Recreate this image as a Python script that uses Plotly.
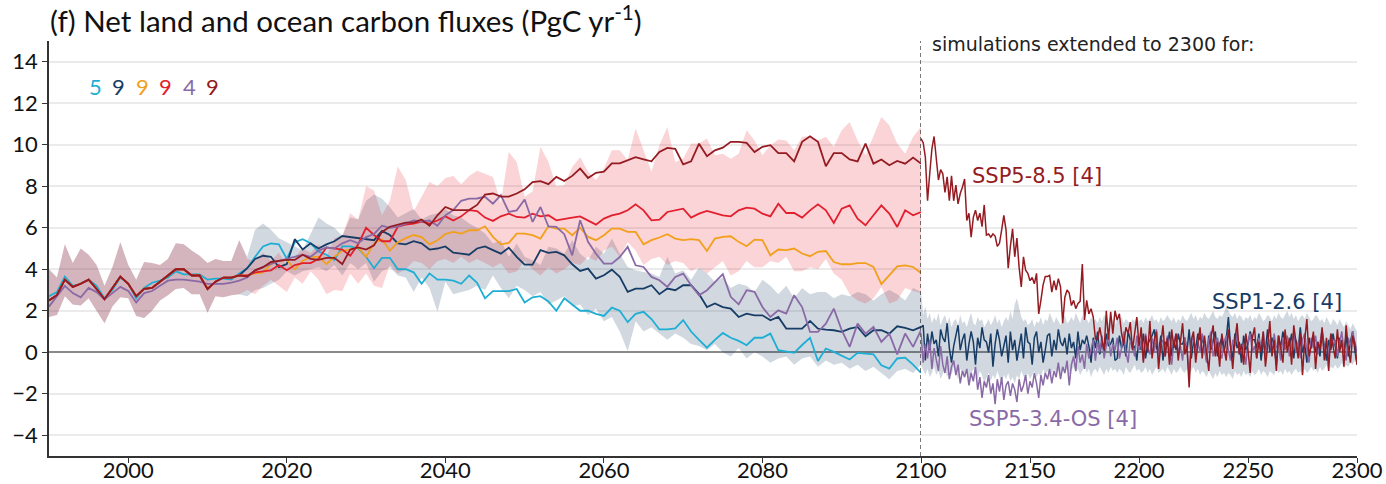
import plotly.graph_objects as go

# ---------------- data ----------------
YEARS = list(range(1990, 2101))
YEARS_EXT = list(range(2100, 2301))

# historical (1990-2014) for the 9-, 5- and 4-model subsets
HIST9 = [2.5, 2.75, 3.5, 3.15, 3.3, 3.5, 3.05, 2.55, 3.1, 3.65, 3.3, 2.7, 3.05, 3.1, 3.4,
         3.7, 4.0, 4.0, 3.7, 3.7, 3.05, 3.4, 3.6, 3.6, 3.7]
HIST5 = [2.7, 2.9, 3.65, 3.2, 3.3, 3.5, 3.2, 2.6, 3.0, 3.6, 3.3, 2.6, 3.1, 3.35, 3.45,
         3.6, 3.9, 3.75, 3.75, 3.75, 3.5, 3.55, 3.55, 3.5, 3.8]
HIST4 = [2.2, 2.7, 3.2, 2.85, 2.65, 3.1, 2.9, 2.55, 2.85, 3.15, 2.95, 2.4, 2.85, 2.95, 3.2,
         3.45, 3.5, 3.5, 3.45, 3.4, 3.3, 3.3, 3.3, 3.35, 3.45]
HIST_LOW = [1.7, 1.8, 2.7, 2.3, 2.25, 2.6, 2.0, 1.4, 2.2, 2.65, 2.6, 1.75, 1.65, 2.0, 2.5,
            2.75, 3.05, 3.1, 2.8, 2.8, 1.9, 2.7, 2.65, 2.75, 2.8]
HIST_HIGH = [4.0, 3.6, 5.2, 4.3, 5.0, 4.7, 4.2, 3.2, 4.1, 5.3, 4.2, 3.5, 4.35, 4.3, 4.2,
             4.5, 5.25, 5.2, 4.9, 4.65, 4.3, 4.5, 4.4, 4.4, 5.4]

# scenarios 2015-2100
SSP119 = [4.05, 4.6, 5.1, 5.25, 5.2, 4.5, 5.3, 5.45, 5.25, 4.85,
          4.7, 4.45, 5.1, 5.1, 5.0, 4.6, 4.05, 4.55, 4.55, 4.0,
          4.0, 3.85, 3.3, 3.8, 3.5, 3.5, 3.45, 3.3, 3.7, 3.35,
          2.6, 2.95, 2.95, 2.95, 3.05, 2.4, 2.65, 2.7, 2.45, 2.0,
          2.6, 2.3, 2.0, 2.0, 1.85, 1.75, 2.15, 2.0, 1.45, 1.85,
          1.95, 1.6, 1.1, 1.1, 1.15, 1.55, 1.0, 0.6, 0.22, 0.6,
          0.93, 0.7, 0.55, 0.34, 0.7, 0.7, 0.9, 0.1, 0.05, -0.03,
          0.35, 0.7, -0.42, 0.18, 0.02, -0.15, -0.35, -0.03, -0.05, -0.1,
          -0.63, -0.79, -0.3, -0.26, -0.6, -1.0]
SSP126 = [4.05, 4.5, 4.65, 4.6, 4.1, 4.25, 5.45, 4.95, 5.25, 5.0,
          5.2, 5.35, 5.6, 5.55, 5.5, 5.45, 5.4, 5.85, 5.65, 5.25,
          5.2, 5.35, 5.25, 4.95, 5.0, 5.1, 4.8, 4.75, 4.7, 5.0,
          5.1, 4.92, 4.75, 5.04, 4.6, 4.22, 4.22, 4.92, 4.79, 4.84,
          4.67, 4.24, 3.92, 4.03, 3.55, 3.71, 3.98, 3.63, 2.91, 3.07,
          3.07, 3.23, 2.8, 3.07, 2.99, 3.23, 3.23, 2.8, 2.18, 2.35,
          2.18, 2.1, 1.7, 1.86, 1.78, 1.78, 1.54, 1.7, 1.14, 1.14,
          1.14, 1.51, 1.14, 1.09, 1.06, 0.98, 1.14, 1.22, 0.77, 1.06,
          1.06, 0.9, 1.25, 1.17, 1.06, 1.22]
SSP245 = [3.7, 3.8, 3.85, 4.25, 4.4, 4.45, 4.0, 4.4, 4.6, 4.6,
          4.25, 4.6, 4.9, 4.95, 5.05, 4.6, 5.25, 5.45, 4.9, 5.3,
          5.5, 5.65, 5.55, 5.2, 5.4, 5.7, 5.8, 5.72, 5.88, 5.88,
          6.07, 5.56, 5.2, 5.27, 5.72, 5.72, 5.64, 5.48, 6.07, 5.96,
          5.96, 5.64, 6.0, 5.56, 5.4, 5.64, 5.96, 5.96, 5.8, 5.8,
          5.2, 5.4, 5.53, 5.69, 5.48, 5.4, 5.45, 5.4, 4.88, 5.48,
          5.56, 5.59, 5.32, 5.11, 5.43, 5.4, 4.67, 4.95, 4.92, 5.0,
          4.76, 4.63, 4.84, 4.88, 4.35, 4.24, 4.24, 4.3, 4.3, 4.11,
          3.28, 3.71, 4.14, 4.19, 4.11, 3.82]
SSP370 = [3.7, 3.85, 3.9, 3.95, 4.2, 3.95, 4.2, 4.3, 4.3, 4.5,
          5.05, 5.0, 4.95, 4.65, 5.2, 6.0, 5.65, 5.35, 5.35, 6.05,
          6.15, 6.2, 6.3, 6.2, 6.35, 6.55, 6.35, 6.55, 6.85, 6.8,
          6.49, 6.33, 6.55, 6.68, 6.52, 6.49, 6.68, 6.55, 6.6, 6.36,
          6.44, 6.49, 6.55, 6.33, 6.15, 6.44, 6.6, 6.68, 6.84, 7.13,
          6.84, 6.36, 6.39, 6.76, 6.84, 6.92, 6.49, 6.68, 6.81, 6.71,
          6.6, 6.55, 6.84, 6.97, 6.92, 6.68, 6.55, 7.16, 6.71, 6.71,
          6.49, 6.84, 7.13, 6.84, 6.23, 6.92, 7.08, 6.44, 6.12, 6.6,
          7.08, 6.68, 6.04, 6.84, 6.6, 6.76]
SSP534 = [3.6, 3.95, 4.1, 4.25, 4.4, 4.5, 4.6, 4.7, 4.6, 4.9,
          5.05, 5.0, 5.25, 5.4, 5.25, 5.55, 5.7, 6.1, 6.0, 6.05,
          6.2, 6.35, 6.3, 6.35, 6.1, 6.6, 6.85, 7.3, 7.4, 7.41,
          7.49, 7.16, 7.57, 6.76, 6.84, 7.36, 6.28, 7.0, 6.07, 6.04,
          5.69, 4.67, 6.36, 5.32, 4.75, 4.27, 4.27, 4.59, 5.08, 4.19,
          4.11, 3.63, 3.47, 3.15, 3.63, 3.79, 3.23, 2.75, 2.99, 3.39,
          3.76, 2.67, 2.31, 2.99, 2.91, 2.18, 1.7, 2.02, 1.86, 2.75,
          2.18, 0.98, 0.98, 1.38, 2.1, 1.06, 0.26, 1.38, 0.9, 1.22,
          0.5, 0.9, -0.1, 0.9, 0.26, 1.06]
SSP585 = [3.65, 3.95, 4.1, 4.35, 4.4, 4.45, 4.45, 4.7, 4.5, 4.45,
          4.55, 4.55, 4.25, 4.95, 5.05, 4.95, 5.15, 5.8, 6.05, 6.15,
          6.25, 6.25, 6.4, 6.1, 6.6, 7.0, 6.85, 6.85, 6.85, 7.1,
          7.6, 7.65, 7.5, 7.5, 7.65, 7.85, 8.2, 8.25, 8.1, 8.45,
          8.25, 8.5, 8.85, 8.4, 8.65, 8.7, 9.1, 9.1, 9.25, 9.4,
          9.3, 9.2, 9.65, 9.85, 9.8, 9.05, 9.2, 10.05, 9.45, 9.73,
          9.86, 10.14, 10.14, 10.09, 9.65, 9.9, 9.98, 9.6, 9.6, 9.2,
          10.14, 10.41, 10.14, 8.96, 9.6, 9.6, 9.29, 9.2, 10.06, 9.09,
          9.29, 9.01, 9.22, 9.09, 9.38, 9.09]

# model ranges 2015-2100
HIGH_RED = [4.5, 4.4, 4.8, 4.4, 4.8, 4.2, 4.6, 5.0, 4.8, 5.2,
            4.6, 5.5, 5.6, 6.7, 6.4, 8.0, 7.8, 6.6, 7.3, 8.95,
            8.3, 6.8, 7.5, 8.2, 8.0, 8.4, 8.5, 8.1, 8.5, 8.75,
            8.6, 8.45, 7.2, 9.65, 9.17, 7.5, 7.75, 9.9, 9.17, 8.0,
            8.05, 8.93, 9.4, 8.7, 8.3, 8.85, 9.73, 9.73, 9.25, 10.78,
            9.73, 8.7, 9.98, 10.86, 9.17, 9.33, 10.06, 10.06, 10.3, 9.49,
            9.57, 9.33, 9.57, 10.7, 10.2, 9.49, 9.98, 10.25, 10.2, 9.73,
            10.38, 10.41, 10.2, 10.38, 9.9, 10.7, 11.1, 10.2, 9.49, 10.38,
            11.34, 10.94, 10.06, 9.57, 10.38, 10.86]
LOW_RED = [3.0, 2.8, 3.2, 3.5, 3.2, 2.9, 3.6, 3.3, 3.9, 3.5,
           2.8, 3.0, 2.95, 3.8, 3.3, 3.8, 3.2, 3.1, 4.2, 3.8,
           4.0, 4.4, 4.3, 4.0, 4.4, 4.5, 4.3, 4.6, 4.3, 4.5,
           4.3, 4.1, 4.3, 3.8, 3.9, 4.4, 4.0, 3.7, 4.1, 3.8,
           4.0, 4.3, 4.2, 4.6, 4.4, 4.9, 5.1, 4.6, 5.3, 4.9,
           4.2, 4.5, 4.6, 4.2, 4.4, 4.3, 3.9, 4.1, 3.8, 4.1,
           4.4, 3.7, 3.9, 4.4, 4.1, 4.1, 4.4, 4.3, 4.6, 3.9,
           3.9, 4.1, 4.0, 4.5, 3.8, 3.5, 2.8, 2.5, 2.35, 2.6,
           3.15, 2.35, 2.5, 3.1, 2.95, 2.85]
HIGH_BLUE = [4.6, 5.9, 6.2, 5.9, 5.5, 5.3, 5.1, 4.9, 5.7, 6.5,
             6.2, 6.0, 5.6, 6.5, 6.4, 7.3, 7.6, 7.4, 7.0, 6.5,
             6.7, 6.9, 6.4, 6.6, 6.7, 6.9, 6.6, 6.5, 6.2, 6.0,
             5.72, 5.24, 5.4, 4.6, 5.24, 4.6, 4.43, 4.2, 5.08, 5.0,
             4.75, 5.4, 4.75, 4.43, 5.08, 4.75, 5.48, 4.75, 4.11, 3.95,
             3.87, 3.79, 3.63, 4.59, 3.79, 3.95, 3.5, 4.1, 3.8, 3.4,
             3.6, 3.1, 3.3, 3.2, 2.9, 3.5, 3.2, 2.8, 3.2, 2.6,
             3.1, 2.8, 2.9, 2.9, 2.6, 2.8, 2.7, 2.9, 2.8, 2.5,
             2.8, 3.0, 2.8, 2.5, 3.1, 2.9]
LOW_BLUE = [2.7, 3.0, 3.1, 3.3, 3.5, 3.9, 3.7, 3.9, 4.0, 4.1,
            3.9, 4.2, 3.7, 4.3, 4.0, 4.3, 3.4, 3.9, 4.1, 3.7,
            3.6, 2.9, 3.6, 3.1, 1.95, 3.4, 2.8, 2.9, 3.0, 3.2,
            3.0, 3.7, 3.1, 2.6, 3.2, 3.0, 2.7, 2.9, 2.3, 2.5,
            2.7, 2.2, 2.3, 1.8, 2.1, 1.5, 1.7, 1.0, 0.05, 1.5,
            1.0, 1.2, 0.9, 0.6, 0.9, 0.7, 0.4, 0.3, 0.1, 0.4,
            0.0, -0.2, 0.2, -0.3, 0.0, -0.2, -0.5, -0.3, -0.2, -0.6,
            -0.3, -0.2, -0.7, -0.4, -0.6, -0.5, -0.8, -0.6, -0.9, -0.7,
            -1.0, -1.3, -0.9, -0.8, -1.0, -0.6]

# extensions 2100-2300 (4 models each)
SSP585_EXT = [10.3, 10.1, 9.4, 7.3, 8.6, 9.8, 10.4, 9.25, 8.3, 8.8,
              8.6, 7.7, 8.45, 7.3, 8.5, 7.3, 8.05, 7.15, 7.65, 7.95,
              8.35, 6.35, 6.7, 5.55, 6.5, 6.85, 6.35, 6.7, 6.05, 7.1,
              5.65, 5.7, 5.55, 5.7, 5.6, 5.1, 5.25, 5.9, 6.6, 5.9,
              4.05, 5.1, 5.95, 4.6, 5.5, 4.1, 3.15, 4.6, 3.95, 3.8,
              3.45, 3.6, 3.3, 3.8, 1.85, 2.5, 3.25, 3.65, 3.65, 3.7,
              2.9, 3.45, 3.0, 3.55, 3.15, 1.4, 2.65, 3.0, 2.85, 2.25,
              2.5, 2.1, 2.35, 2.45, 4.25, 1.55, 2.5, 1.85, 2.1, 1.7,
              0.65, 0.6, 1.2, 0.6, 0.1, 2.0, 0.6, 1.95, 0.9, 2.0,
              1.55, 1.85, 0.9, 0.4, 1.2, 0.9, 1.45, 0.1, 0.8, 1.7,
              0.3, 1.2, -0.5, 0.8, 0.0, 1.5, -0.3, 0.6, 1.0, -0.8,
              0.4, 1.3, -0.2, 0.7, -0.6, 1.1, 0.2, 0.9, -0.4, 0.5,
              1.4, -0.1, 0.3, -1.7, 0.6, 1.0, -0.5, 0.4, 1.2, -0.3,
              0.8, 0.0, -0.9, 0.7, 1.3, -0.2, 0.5, -0.7, 0.9, 0.2,
              -0.4, 1.1, 0.3, -0.8, 0.6, 1.4, -0.1, 0.4, -0.6, 0.9,
              0.1, -1.0, 0.7, 1.2, -0.3, 0.5, 0.0, 1.0, -0.7, 0.3,
              1.5, -0.2, 0.6, -0.9, 0.8, 0.2, -0.5, 1.1, 0.0, 0.7,
              -0.6, 1.3, 0.4, -0.3, 0.9, -1.1, 0.6, 1.6, -0.2, 0.3,
              1.0, -0.8, 0.5, 0.1, 1.2, -0.4, 0.7, -0.9, 0.9, 0.2,
              -0.3, 1.1, 0.0, 0.6, -0.7, 1.3, 0.2, -0.5, 0.8, 0.4,
              -0.6]
SSP126_EXT = [1.2, 1.3, -0.4, 0.9, 0.1, 1.0, 0.4, 0.6, -0.2, 1.1,
              0.7, 0.5, 1.4, 0.2, -0.5, 0.3, 0.8, 1.3, 0.1, 0.6,
              0.9, -0.4, 0.4, 1.0, 0.5, -0.6, 0.7, 0.2, 1.2, 0.6,
              0.5, 0.0, 0.9, -0.7, 0.4, 1.1, 0.6, -0.2, 0.3, 0.8,
              -0.5, 1.0, 0.1, 0.6, -0.4, 0.2, 0.9, -0.3, 1.2, 0.5,
              0.4, -0.6, 0.7, 1.0, 0.0, 0.5, -0.5, 0.1, 0.8, 0.9,
              -0.2, 0.6, 0.1, 1.1, 0.5, 0.3, 0.7, -0.1, 0.9, 0.2,
              0.5, -0.3, 1.0, 0.1, 0.6, 0.4, 0.8, 0.3, -0.5, 0.7,
              0.2, 1.0, -0.1, 0.5, 0.0, 0.9, 0.3, 0.4, 0.7, -0.4,
              -0.3, 0.8, 0.2, 0.5, -0.2, 1.0, 0.6, 0.2, 0.3, -0.4,
              0.7, 0.1, 0.9, -0.3, 0.4, 0.6, 0.8, 1.1, 0.2, 0.0,
              0.8, -0.4, 0.5, 0.3, 1.0, -0.2, 0.6, 0.1, 0.9, 0.4,
              0.4, 0.7, 0.0, 1.1, -0.3, 0.5, 0.2, 0.9, 0.6, 0.6,
              0.3, -0.4, 0.8, 0.1, 0.5, 1.0, -0.2, 0.4, 0.7, 0.0,
              0.6, 1.7, 0.3, -0.3, 0.9, 0.2, 0.5, -0.5, 0.8, 0.1,
              0.4, 1.0, 0.6, 0.6, 0.2, 0.9, -0.4, 0.5, 0.1, 1.1,
              0.0, 0.7, 0.3, -0.6, 0.8, 0.2, 1.0, 0.4, 0.5, 0.3,
              0.9, -0.3, 0.6, 0.1, 1.2, 0.0, 0.4, -0.5, 0.7, 0.2,
              0.8, 0.0, 0.5, -0.2, 1.0, 0.3, -0.4, 0.6, 0.1, 0.9,
              0.2, -0.3, 0.7, 0.4, 0.0, 0.8, -0.2, 0.5, 1.0, 0.1,
              -0.6]
SSP534_EXT = [0.9, -0.5, 0.4, -0.3, 0.6, -0.8, 0.2, -0.4, -0.9, 0.3,
              -0.6, -1.0, -0.2, -1.3, -0.7, -0.4, -1.1, -0.6, -1.5, -0.9,
              -1.2, -0.8, -1.6, -1.0, -1.4, -0.7, -1.8, -1.2, -2.2, -1.4,
              -1.7, -1.1, -2.0, -1.5, -2.5, -1.3, -1.9, -1.2, -2.3, -1.6,
              -1.4, -2.1, -1.5, -1.8, -2.4, -1.3, -1.9, -1.6, -1.1, -2.0,
              -1.4, -1.7, -1.0, -1.5, -2.2, -1.1, -1.6, -1.0, -1.3, -0.8,
              -1.5, -0.9, -1.2, -0.5, -1.3, -0.7, -1.0, -0.4, -1.6, -0.6,
              -0.2, -0.9, 0.3, -0.5, -0.1, -0.8, 0.4, -0.3, 0.1, 0.6,
              -0.4, 0.5, 0.0, 0.8, -0.3, 0.3, 0.9, -0.2, 0.4, 0.1,
              0.7, -0.3, 0.2, 1.0, 0.0, -0.5, 0.6, 0.3, -0.2, 0.8,
              0.1, 0.5, -0.4, 0.9, 0.2, -0.1, 0.7, 0.0, 1.1, -0.3,
              0.4, 0.6, -0.2, 0.8, 0.1, -0.6, 0.5, 0.9, 0.0, 0.3,
              -0.4, 0.7, 0.2, -1.0, 0.4, 0.8, -0.1, 0.5, 0.0, 0.9,
              0.2, -0.5, 0.6, 1.0, -0.2, 0.3, 0.7, 0.0, -0.3, 0.5,
              0.8, 0.1, -0.4, 0.6, 0.3, 1.0, -0.1, 0.4, 0.2, -0.6,
              0.5, 0.9, 0.0, 0.3, -0.3, 0.7, 0.2, 1.0, -0.2, 0.4,
              0.6, -0.1, 0.9, 0.2, 0.4, -0.4, 0.7, 0.1, 0.8, -0.2,
              0.3, 1.0, 0.0, 0.5, -0.3, 0.6, 0.9, 0.1, -0.5, 0.7,
              0.2, 0.8, -0.1, 0.4, 1.1, 0.0, 0.5, -0.3, 0.9, 0.3,
              0.6, -0.2, 0.4, 1.0, 0.1, -0.4, 0.7, 0.3, 1.0, 0.5,
              0.0]
HIGH_BLUE_EXT = [2.9, 1.8, 2.2, 1.6, 1.9, 1.4, 1.7, 1.5, 1.9, 1.3,
                 1.6, 1.8, 1.4, 1.7, 1.2, 1.5, 1.6, 1.3, 1.8, 1.4,
                 1.5, 1.2, 1.6, 1.9, 1.4, 1.3, 1.7, 1.5, 1.6, 1.2,
                 1.4, 1.6, 1.3, 1.5, 1.8, 1.4, 1.6, 1.2, 1.5, 1.7,
                 1.5, 2.0, 1.6, 2.3, 2.6, 2.2, 1.7, 1.5, 1.6, 1.3,
                 1.4, 1.6, 1.2, 1.5, 1.4, 1.7, 1.3, 1.6, 1.5, 1.9,
                 1.6, 1.4, 1.7, 1.5, 1.3, 1.6, 1.8, 1.4, 1.5, 1.7,
                 1.5, 1.9, 1.6, 1.4, 1.8, 1.5, 1.6, 1.4, 1.7, 1.5,
                 1.6, 1.4, 1.7, 1.5, 1.8, 1.6, 1.4, 1.7, 1.5, 1.3,
                 1.6, 1.5, 1.7, 1.4, 1.6, 1.5, 1.3, 1.6, 1.5, 1.7,
                 1.5, 1.6, 1.4, 1.7, 1.5, 1.6, 1.8, 1.5, 1.6, 1.4,
                 1.7, 1.5, 1.6, 1.8, 1.6, 1.5, 1.7, 1.4, 1.6, 1.5,
                 1.8, 1.6, 1.5, 1.7, 1.9, 1.6, 1.8, 1.5, 1.7, 1.6,
                 1.9, 1.7, 1.6, 1.8, 2.0, 1.7, 1.6, 1.8, 1.7, 1.9,
                 2.2, 2.0, 1.8, 1.7, 1.9, 1.6, 1.8, 1.7, 1.5, 1.7,
                 1.6, 1.8, 1.5, 1.7, 1.6, 1.9, 1.7, 1.5, 1.6, 1.8,
                 1.7, 1.5, 1.8, 1.6, 1.9, 1.7, 1.6, 1.8, 2.0, 1.7,
                 1.9, 1.6, 1.8, 1.5, 1.7, 1.8, 1.6, 1.9, 1.7, 1.5,
                 1.6, 1.8, 1.7, 1.5, 1.6, 1.4, 1.7, 1.5, 1.3, 1.6,
                 1.5, 1.3, 1.6, 1.4, 1.2, 1.5, 1.3, 1.1, 1.4, 1.2,
                 1.0]
LOW_BLUE_EXT = [-0.6, -0.9, -1.1, -0.8, -1.2, -1.0, -0.7, -1.1, -0.9, -1.3,
                -1.0, -0.8, -1.2, -0.9, -1.1, -0.7, -1.0, -1.3, -0.8, -1.0,
                -1.2, -0.9, -1.4, -1.1, -0.8, -1.0, -1.3, -0.9, -1.1, -1.5,
                -1.2, -1.0, -1.4, -1.1, -1.3, -0.9, -1.2, -1.6, -1.1, -1.3,
                -1.0, -1.4, -1.2, -1.5, -1.1, -1.3, -0.9, -1.2, -1.4, -1.0,
                -1.3, -1.1, -0.9, -1.2, -1.0, -1.3, -0.8, -1.1, -0.9, -1.2,
                -1.0, -0.8, -1.1, -0.9, -1.2, -0.7, -1.0, -0.8, -1.1, -0.9,
                -0.7, -1.0, -0.8, -1.1, -0.9, -0.6, -1.0, -0.8, -1.2, -0.9,
                -0.8, -1.0, -0.7, -0.9, -1.1, -0.8, -1.0, -0.7, -0.9, -0.8,
                -1.0, -0.8, -0.9, -1.1, -0.7, -0.9, -1.0, -0.8, -0.6, -0.9,
                -0.8, -1.0, -0.9, -0.7, -1.0, -0.8, -1.1, -0.9, -0.7, -1.0,
                -0.9, -0.8, -1.0, -0.7, -0.9, -1.1, -0.8, -1.0, -0.9, -0.7,
                -0.9, -1.0, -0.8, -1.2, -0.9, -0.7, -1.0, -0.8, -1.1, -0.9,
                -1.0, -1.2, -0.9, -1.1, -1.3, -1.0, -1.2, -0.9, -1.1, -1.0,
                -1.2, -1.0, -1.1, -1.3, -0.9, -1.1, -1.0, -1.2, -0.9, -1.1,
                -1.0, -1.2, -0.9, -1.1, -1.0, -0.8, -1.1, -0.9, -1.0, -1.2,
                -0.9, -1.0, -1.1, -0.8, -1.0, -0.9, -1.1, -0.8, -1.0, -0.9,
                -1.1, -0.9, -0.8, -1.0, -0.9, -1.1, -0.8, -1.0, -0.9, -0.7,
                -0.9, -0.8, -1.0, -0.7, -0.9, -0.8, -0.6, -0.9, -0.7, -0.8,
                -0.6, -0.8, -0.7, -0.5, -0.8, -0.6, -0.7, -0.5, -0.6, -0.4,
                -0.3]

MODEL_COUNTS = ["5", "9", "9", "9", "4", "9"]
EXT_LABELS = ["SSP5-8.5 [4]", "SSP1-2.6 [4]", "SSP5-3.4-OS [4]"]
EXT_LABEL_POS = [(2122.5, 8.5), (2232.5, 2.4), (2121, -3.2)]
TITLE = "(f) Net land and ocean carbon fluxes (PgC yr<sup>-1</sup>)"
NOTE = "simulations extended to 2300 for:"

# ---------------- style ----------------
C119, C126, C245, C370, C534, C585 = "#1eaed4", "#173c66", "#f2a01c", "#e31e2d", "#8a6aa6", "#951b22"
COLORS = [C119, C126, C245, C370, C534, C585]
PINK = "rgba(231,29,37,0.19)"
BLUE = "rgba(23,60,102,0.20)"
MYRIAD = "Lato"
DEJAVU = "DejaVu Sans"

fig = go.Figure()

def band(x, lo, hi, color, xa, ya):
    fig.add_trace(go.Scatter(x=x, y=lo, mode="lines", line=dict(width=0),
                             hoverinfo="skip", xaxis=xa, yaxis=ya))
    fig.add_trace(go.Scatter(x=x, y=hi, mode="lines", line=dict(width=0),
                             fill="tonexty", fillcolor=color, hoverinfo="skip",
                             xaxis=xa, yaxis=ya))

band(YEARS, HIST_LOW + LOW_BLUE, HIST_HIGH + HIGH_BLUE, BLUE, "x", "y")
band(YEARS, HIST_LOW + LOW_RED, HIST_HIGH + HIGH_RED, PINK, "x", "y")

series = [HIST5 + SSP119, HIST9 + SSP126, HIST9 + SSP245, HIST9 + SSP370,
          HIST4 + SSP534, HIST9 + SSP585]
for s, c in zip(series, COLORS):
    fig.add_trace(go.Scatter(x=YEARS, y=s, mode="lines", line=dict(color=c, width=1.8),
                             xaxis="x", yaxis="y"))

band(YEARS_EXT, LOW_BLUE_EXT, HIGH_BLUE_EXT, BLUE, "x2", "y2")
for s, c in [(SSP126_EXT, C126), (SSP534_EXT, C534), (SSP585_EXT, C585)]:
    fig.add_trace(go.Scatter(x=YEARS_EXT, y=s, mode="lines", line=dict(color=c, width=1.5),
                             xaxis="x2", yaxis="y2"))

split = (921 - 49) / 1308
axis_common = dict(showline=True, linecolor="#333333", linewidth=1.5, ticks="outside",
                   ticklen=5, tickwidth=1.2, tickcolor="#333333", automargin=False,
                   tickfont=dict(family=MYRIAD, size=22, color="#111111"))
yaxis_common = dict(range=[-5, 15], tickvals=list(range(-4, 15, 2)),
                    showgrid=True, gridcolor="#ebebeb", gridwidth=2,
                    zeroline=True, zerolinecolor="#8a8a8a", zerolinewidth=2)

fig.update_layout(
    width=1386, height=484,
    margin=dict(l=49, r=29, t=41, b=28, autoexpand=False),
    paper_bgcolor="white", plot_bgcolor="white",
    showlegend=False,
    title=dict(text=TITLE, x=50 / 1386, xanchor="left", xref="container",
               y=1 - 22 / 484, yanchor="middle", yref="container",
               font=dict(family=MYRIAD, size=29.5, color="#111111"), automargin=False),
    xaxis=dict(domain=[0, split], range=[1990, 2100], tickvals=list(range(2000, 2101, 20)),
               showgrid=False, zeroline=False, anchor="y", ticklabelstandoff=-11,
               **axis_common),
    xaxis2=dict(domain=[split, 1], range=[2100, 2300], tickvals=[2150, 2200, 2250, 2300],
                showgrid=False, zeroline=False, anchor="y2", ticklabelstandoff=-11,
                **axis_common),
    yaxis=dict(anchor="x", **yaxis_common, **axis_common),
    yaxis2=dict(anchor="x2", matches="y", showticklabels=False, showline=False, ticks="",
                automargin=False, **yaxis_common),
)

fig.add_shape(type="line", xref="x", yref="paper", x0=2100, x1=2100, y0=0, y1=1,
              line=dict(color="#222222", width=1.2, dash="4px,3px"), layer="above")

fig.add_annotation(text=NOTE, xref="x2", x=2104, yref="paper", y=(456 - 44) / 415,
                   xanchor="left", yanchor="middle", showarrow=False,
                   font=dict(family=DEJAVU, size=19, color="#222222"))
for txt, (xx, yy), c in zip(EXT_LABELS, EXT_LABEL_POS, [C585, C126, C534]):
    fig.add_annotation(text=txt, xref="x2", x=xx, yref="y2", y=yy, xanchor="left",
                       yanchor="middle", showarrow=False,
                       font=dict(family=DEJAVU, size=21, color=c))
for i, (txt, c) in enumerate(zip(MODEL_COUNTS, COLORS)):
    fig.add_annotation(text=txt, xref="paper", x=(95 + 23.6 * i - 49) / 1308,
                       yref="paper", y=(456 - 86) / 415, xanchor="center", yanchor="middle",
                       showarrow=False, font=dict(family=MYRIAD, size=22, color=c))

fig.write_html("out.html")
